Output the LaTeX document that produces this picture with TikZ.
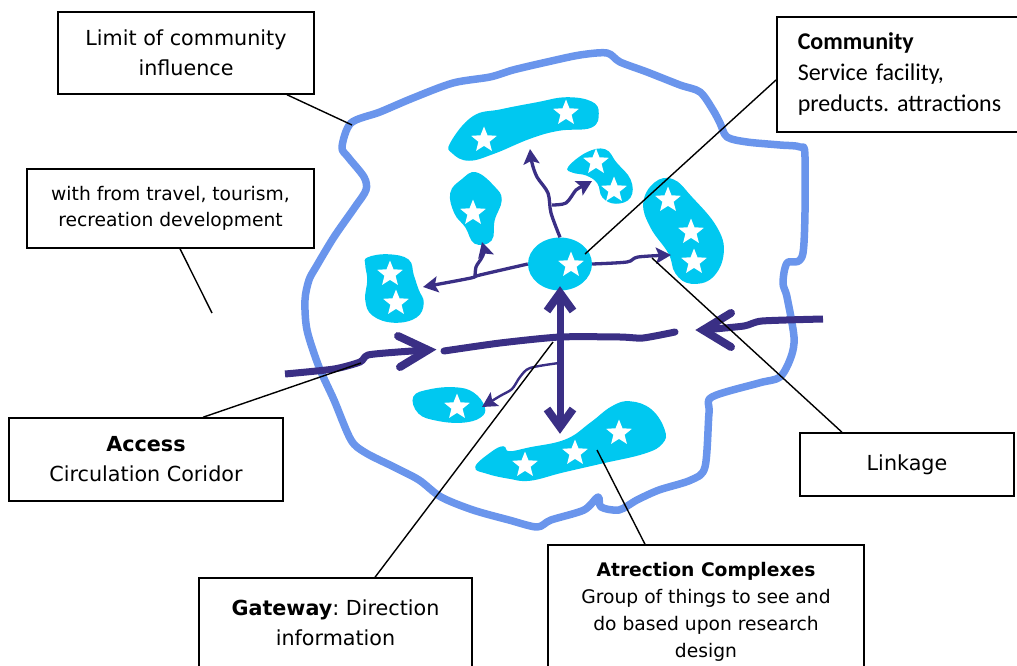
\documentclass[tikz,border=0pt]{standalone}
\usepackage{fontspec}
\setmainfont{DejaVu Sans}
\newfontfamily\califont{Carlito}
\usetikzlibrary{arrows.meta,shapes.geometric,calc}
\frenchspacing

\definecolor{ringblue}{HTML}{6A95EC}
\definecolor{blobcyan}{HTML}{00C8F0}
\definecolor{roadnavy}{HTML}{3A2F85}

\tikzset{
  labelbox/.style={draw=black, line width=1.5pt, fill=white, align=center, inner sep=0pt,
                   font=\fontsize{20.7}{30}\selectfont},
  smalltext/.style={font=\fontsize{18.7}{26}\selectfont},
  leader/.style={draw=black, line width=1.4pt},
  ring/.style={draw=ringblue, line width=7.5pt, line join=round},
  blob/.style={fill=blobcyan, draw=blobcyan, line width=1.5pt},
  attr/.style={star, star points=5, star point ratio=2.3, fill=white, draw=none,
               minimum size=27pt, inner sep=0pt},
  road/.style={draw=roadnavy, line width=7pt, line cap=round, line join=round},
  chev/.style={draw=roadnavy, line width=8pt, line join=miter, line cap=butt},
  link/.style={draw=roadnavy, line width=3.3pt, line join=round,
               -{Stealth[length=15pt,width=16pt,inset=3pt]}},
  minorlink/.style={link, line width=2.4pt},
}

\begin{document}
\begin{tikzpicture}[x=1pt,y=-1pt]
\useasboundingbox (0,0) rectangle (1017,666);

% limit of community influence
\draw[ring] plot[smooth cycle, tension=0.5] coordinates {
  (351,123) (342,147) (348,157) (364,177) (366,190) (355,207) (334,237) (316,267)
  (309,280) (305,300) (307,330) (319,367) (334,400) (351,440) (366,453) (394,467)
  (419,480) (441,497) (473,510) (509,520) (537,527) (551,520) (584,510) (598,497)
  (601,507) (619,510) (637,500) (659,490) (691,480) (705,467) (709,413) (712,397)
  (759,383) (780,377) (791,357) (794,337) (787,297) (783,283) (787,263) (803,253)
  (805,157) (800,147) (780,145) (747,142) (727,137) (720,123) (713,110) (700,92)
  (680,85) (647,72) (620,62) (607,53) (580,55) (547,62) (513,70) (490,77)
  (453,83) (413,98) (380,112)};

% attraction complexes
\fill[blob] plot[smooth cycle, tension=0.7] coordinates {
  (451,143) (473,117) (501,110) (537,103) (566,98) (591,102) (598,113) (591,127)
  (559,130) (530,138) (494,153) (469,160) (453,153)};
\fill[blob] plot[smooth cycle, tension=0.7] coordinates {
  (476,173) (494,187) (501,200) (494,220) (491,240) (475,243) (466,227) (455,213)
  (451,193) (462,180)};
\fill[blob] plot[smooth cycle, tension=0.7] coordinates {
  (569,167) (587,153) (605,150) (616,163) (630,180) (630,197) (616,203) (603,197)
  (598,183) (587,175) (573,172)};
\fill[blob] plot[smooth cycle, tension=0.7] coordinates {
  (655,183) (673,180) (691,197) (716,227) (723,253) (712,277) (691,283) (676,273)
  (669,253) (651,227) (644,203)};
\fill[blob] plot[smooth cycle, tension=0.7] coordinates {
  (368,258) (388,255) (408,260) (413,275) (418,290) (423,303) (416,317) (394,322)
  (373,315) (366,300) (368,280) (366,265)};
\fill[blob] plot[smooth cycle, tension=0.7] coordinates {
  (414,397) (430,390) (455,388) (473,393) (484,407) (480,417) (462,422) (437,420)
  (419,413)};
\fill[blob] plot[smooth cycle, tension=0.7] coordinates {
  (476,467) (491,453) (503,447) (509,452) (530,448) (566,440) (591,423) (612,407)
  (630,402) (651,410) (664,430) (662,443) (644,453) (601,463) (562,472) (530,480)
  (509,478) (487,473)};

% community core
\node[ellipse, fill=blobcyan, minimum width=64pt, minimum height=53pt, inner sep=0pt] (comm) at (560,264) {};

% stars
\foreach \sx/\sy/\sn in {484/140/sa1, 566/113/sa2, 473/213/sb1, 596/162/sc1, 614/190/sc2,
                   668/200/sd1, 691/232/sd2, 694/262/sd3, 390/274/se1, 396/303/se2,
                   457/407/sf1, 525/465/sg1, 575/453/sg2, 619/433/sg3, 571/265/sh1}{
  \node[attr] (\sn) at (\sx,\sy) {};
}

% circulation corridor
\coordinate (roadW) at (444,351);
\coordinate (roadE) at (675,332);
\draw[road] plot[smooth, tension=0.4] coordinates {(roadW) (500,343) (560,337) (620,337) (643,338) (roadE)};

% access from the west
\coordinate (accWstart) at (285,374);
\coordinate (accWtip) at (428,350);
\draw[road, line cap=butt] plot[smooth, tension=0.4] coordinates {(accWstart) (334,369) (360,362) (368,355) (398,352) (accWtip)};
\draw[chev, line cap=round] ($(accWtip)+(-30,-14)$) -- (accWtip) -- ($(accWtip)+(-28,17)$);

% access from the east
\coordinate (accEstart) at (823,319);
\coordinate (accEtip) at (703,330);
\draw[road, line cap=butt] plot[smooth, tension=0.4] coordinates {(accEstart) (762,321) (744,326) (accEtip)};
\draw[chev, line cap=round] ($(accEtip)+(28,-17)$) -- (accEtip) -- ($(accEtip)+(28,17)$);

% gateway axis
\coordinate (vtop) at (560,293);
\coordinate (vbot) at (560,427);
\draw[road, line cap=butt] (vtop) -- (vbot);
\draw[chev] ($(vtop)+(-13,18)$) -- (vtop) -- ($(vtop)+(13,18)$);
\draw[chev] ($(vbot)+(-13,-18)$) -- (vbot) -- ($(vbot)+(13,-18)$);

% linkages
\draw[link] plot[smooth, tension=0.5] coordinates {(comm.north) (551,213) (548,193) (537,177) (532,163) (530,149)};
\coordinate (forkN) at (552,205);
\draw[link] plot[smooth, tension=0.5] coordinates {(forkN) (566,203) (576,190) (583,186) (592,181)};
\draw[link] plot[smooth, tension=0.5] coordinates {(comm.east) (627,262) (638,257) (671,255)};
\draw[link] plot[smooth, tension=0.5] coordinates {(comm.west) (480,275) (471,278) (434,285) (423,287)};
\coordinate (forkW) at (475,277);
\draw[link] plot[smooth, tension=0.5] coordinates {(forkW) (476,267) (481,259) (484,252) (482,242)};
\coordinate (forkS) at (559,363);
\draw[minorlink] plot[smooth, tension=0.5] coordinates {(forkS) (530,368) (520,377) (512,389) (500,396) (482,407)};

% labels
\node[labelbox, minimum width=256pt, minimum height=82pt] (lim) at (186,53) {Limit of community\\influence};
\node[labelbox, smalltext, minimum width=287pt, minimum height=79pt] (wider) at (170.5,208.5) {with from travel, tourism,\\recreation development};
\node[labelbox, minimum width=274pt, minimum height=83pt] (acc) at (146,459.5) {\textbf{Access}\\Circulation Coridor};
\node[labelbox, minimum width=273pt, minimum height=90pt] (gate) at (335.5,623) {\textbf{Gateway}: Direction\\information};
\node[labelbox, minimum width=316pt, minimum height=134pt, font=\fontsize{18.7}{27}\selectfont] (attrc) at (706,612) {\textbf{Atrection Complexes}\\Group of things to see and\\do based upon research\\design};
\node[labelbox, minimum width=214pt, minimum height=63pt] (lnk) at (907,464.5) {Linkage};
\node[labelbox, anchor=west, align=left, text width=218pt, inner xsep=21pt, minimum height=115pt,
      font=\califont\fontsize{24}{31}\selectfont] (cbox) at (776,74.5) {\textbf{Community}\\Service facility,\\preducts. attractions};

% leader lines
\coordinate (limEnd) at (352,125);
\coordinate (widerEnd) at (212,313);
\coordinate (accEnd) at (361,363);
\coordinate (gateEnd) at (553,342);
\coordinate (attrEnd) at (597,450);
\coordinate (lnkEnd) at (652,258);
\coordinate (commEnd) at (585,254);
\draw[leader] ($(lim.south)+(101,0)$) -- (limEnd);
\draw[leader] ($(wider.south)+(9.5,0)$) -- (widerEnd);
\draw[leader] ($(acc.north)+(57,0)$) -- (accEnd);
\draw[leader] ($(gate.north)+(39.5,0)$) -- (gateEnd);
\draw[leader] ($(attrc.north)+(-61,0)$) -- (attrEnd);
\draw[leader] ($(lnk.north)+(-65,0)$) -- (lnkEnd);
\draw[leader] ($(cbox.west)+(0,5.5)$) -- (commEnd);
\end{tikzpicture}
\end{document}
